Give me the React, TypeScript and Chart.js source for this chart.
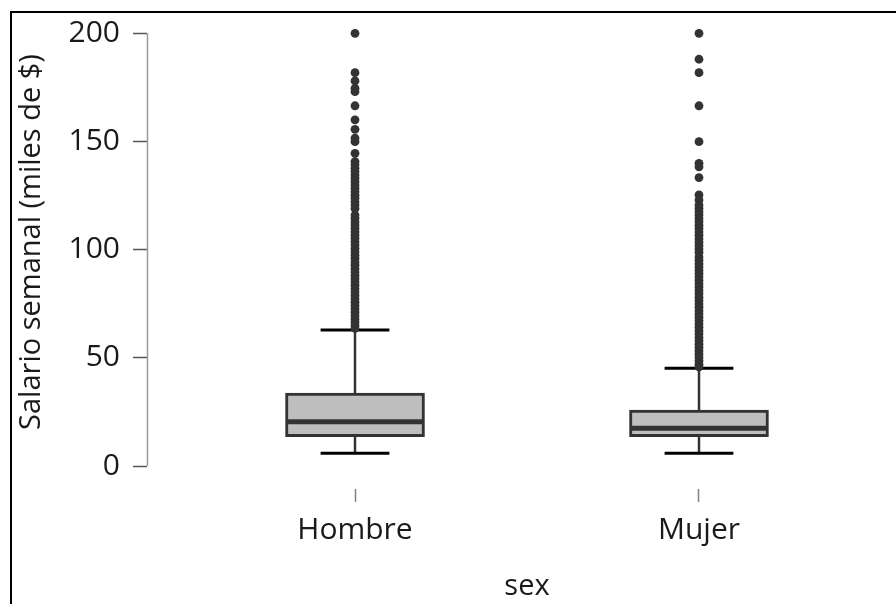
import { useEffect, useRef } from 'react';
import { Chart, registerables } from 'chart.js';

Chart.register(...registerables);

// Weekly salary by sex (thousands of $): box statistics per group
const groups = ['Hombre', 'Mujer'];
const whiskerLow = [5.9, 5.9];
const quartile1 = [13.5, 13.5];
const medians = [20.5, 17.4];
const quartile3 = [33.7, 25.9];
const whiskerHigh = [62.9, 45.2];

// Points beyond the upper whisker
const outliersHombre = [
  200, 181.8, 178, 174.6, 173, 166.5, 160, 155.6, 151.5, 149.9, 144.5, 140.7,
  139.2, 137.6, 136.1, 134.5, 133, 131.4, 129.9, 128.3, 126.8, 125.2, 123.7,
  122.1, 120.6, 119, 116, 114.5, 112.9, 111.4, 109.8, 108.3, 106.7, 105.2,
  103.6, 102.1, 100.5, 99, 97.4, 95.9, 94.3, 92.8, 91.2, 89.7, 88.1, 86.6, 85,
  83.5, 81.9, 80.4, 78.8, 77.3, 75.7, 74.2, 72.6, 71.1, 69.5, 68, 66.4, 64.9,
  63.6,
];
const outliersMujer = [
  200, 188, 181.8, 166.5, 149.9, 139.9, 138.3, 133.3, 125.3, 122.9, 120.6,
  119.1, 117.5, 116, 114.4, 112.9, 111.3, 109.8, 108.2, 106.7, 104.9, 103.4,
  101.8, 100.3, 98.7, 96.6, 95.1, 93.5, 92, 90.4, 88.9, 87.3, 85.8, 84.2, 82.7,
  81.1, 79.6, 78, 76.5, 74.9, 73.4, 71.8, 70.3, 68.7, 67.2, 65.6, 64.1, 62.5,
  61, 59.4, 57.9, 56.3, 54.8, 53.2, 51.7, 50.1, 48.6, 47, 45.8,
];
const outliers = [outliersHombre, outliersMujer];

const yTickValues = [0, 50, 100, 150, 200];
const yTitle = 'Salario semanal (miles de $)';
const xTitle = 'sex';

const FONT = "'Open Sans', 'Noto Sans', sans-serif";
const TEXT = '#1a1a1a';
const DARK = '#333333';
const BOX_HALF = 0.2;
const CAP_HALF = 0.1;

const positions = groups.map((_, i) => i + 1);

function segment(x0: number, y0: number, x1: number, y1: number, color: string, width: number, order: number) {
  return {
    type: 'line' as const,
    data: [
      { x: x0, y: y0 },
      { x: x1, y: y1 },
    ],
    borderColor: color,
    borderWidth: width,
    borderCapStyle: 'butt' as const,
    pointRadius: 0,
    fill: false,
    order,
  };
}

function buildDatasets(): any[] {
  const sets: any[] = [];
  positions.forEach((p, i) => {
    sets.push(segment(p, quartile3[i], p, whiskerHigh[i], DARK, 2.5, 7));
    sets.push(segment(p, whiskerLow[i], p, quartile1[i], DARK, 2.5, 7));
    sets.push(segment(p - CAP_HALF, whiskerHigh[i], p + CAP_HALF, whiskerHigh[i], '#000', 3, 3));
    sets.push(segment(p - CAP_HALF, whiskerLow[i], p + CAP_HALF, whiskerLow[i], '#000', 3, 3));
    sets.push(segment(p - BOX_HALF, medians[i], p + BOX_HALF, medians[i], DARK, 5, 4));
    sets.push({
      type: 'scatter',
      data: outliers[i].map((v) => ({ x: p, y: v })),
      pointRadius: 4.4,
      pointBackgroundColor: DARK,
      pointBorderWidth: 0,
      order: 1,
    });
  });
  sets.push({
    type: 'bar',
    data: positions.map((p, i) => ({ x: p, y: [quartile1[i], quartile3[i]] })),
    backgroundColor: '#bebebe',
    borderColor: DARK,
    borderWidth: 3,
    borderSkipped: false,
    barThickness: 139,
    order: 6,
  });
  return sets;
}

// Axis line spanning only the labelled tick range
const axisLinePlugin = {
  id: 'axisLine',
  afterDatasetsDraw(chart: any) {
    const { ctx, chartArea } = chart;
    const y = chart.scales.y;
    ctx.save();
    ctx.strokeStyle = '#9a9a9a';
    ctx.lineWidth = 1.5;
    ctx.beginPath();
    ctx.moveTo(chartArea.left + 0.5, y.getPixelForValue(yTickValues[0]));
    ctx.lineTo(chartArea.left + 0.5, y.getPixelForValue(yTickValues[yTickValues.length - 1]));
    ctx.stroke();
    ctx.restore();
  },
};

export default function App() {
  const ref = useRef<HTMLCanvasElement>(null);

  useEffect(() => {
    const canvas = ref.current;
    if (!canvas) return;
    const chart = new Chart(canvas, {
      type: 'bar',
      data: { datasets: buildDatasets() },
      plugins: [axisLinePlugin],
      options: {
        animation: false,
        responsive: false,
        devicePixelRatio: 1,
        layout: { padding: { top: 18, right: 13, bottom: 0, left: 0 } },
        plugins: {
          legend: { display: false },
          tooltip: { enabled: false },
        },
        scales: {
          x: {
            type: 'linear',
            offset: false,
            min: 0.3953,
            max: 2.6047,
            afterBuildTicks: (scale: any) => {
              scale.ticks = positions.map((v) => ({ value: v }));
            },
            afterFit: (scale: any) => {
              scale.height = 154;
              scale.paddingLeft = 0;
              scale.paddingRight = 0;
            },
            grid: {
              offset: false,
              drawOnChartArea: false,
              drawTicks: true,
              tickLength: 36,
              tickBorderDash: [13, 23],
              tickBorderDashOffset: 13,
              tickColor: '#808080',
              tickWidth: 1.5,
            },
            border: { display: false },
            ticks: {
              padding: 10,
              color: TEXT,
              font: { family: FONT, size: 30 },
              callback: (_v: any, index: number) => groups[index],
            },
            title: {
              display: true,
              text: xTitle,
              color: TEXT,
              font: { family: FONT, size: 29 },
              padding: { top: 0, bottom: 16 },
            },
          },
          y: {
            type: 'linear',
            min: 0,
            max: 207.07,
            afterBuildTicks: (scale: any) => {
              scale.ticks = yTickValues.map((v) => ({ value: v }));
            },
            afterFit: (scale: any) => {
              scale.width = 147;
              scale.paddingTop = 0;
              scale.paddingBottom = 0;
            },
            grid: {
              drawOnChartArea: false,
              drawTicks: true,
              tickLength: 14,
              tickColor: '#555555',
              tickWidth: 1.5,
            },
            border: { display: false },
            ticks: {
              padding: 13,
              color: TEXT,
              font: { family: FONT, size: 30 },
            },
            title: {
              display: true,
              text: yTitle,
              color: TEXT,
              font: { family: FONT, size: 29 },
              padding: { top: 14, bottom: 0 },
            },
          },
        },
      } as any,
    });
    return () => chart.destroy();
  }, []);

  return (
    <div
      style={{
        position: 'absolute',
        left: 0,
        top: 0,
        width: 896,
        height: 604,
        overflow: 'hidden',
        background: '#ffffff',
      }}
    >
      <canvas
        ref={ref}
        width={920}
        height={620}
        style={{ position: 'absolute', left: 0, top: 0, width: 920, height: 620 }}
      />
      <div
        style={{
          position: 'absolute',
          left: 10,
          top: 11,
          width: 900,
          height: 620,
          borderLeft: '2px solid #000',
          borderTop: '2px solid #000',
          pointerEvents: 'none',
        }}
      />
    </div>
  );
}
